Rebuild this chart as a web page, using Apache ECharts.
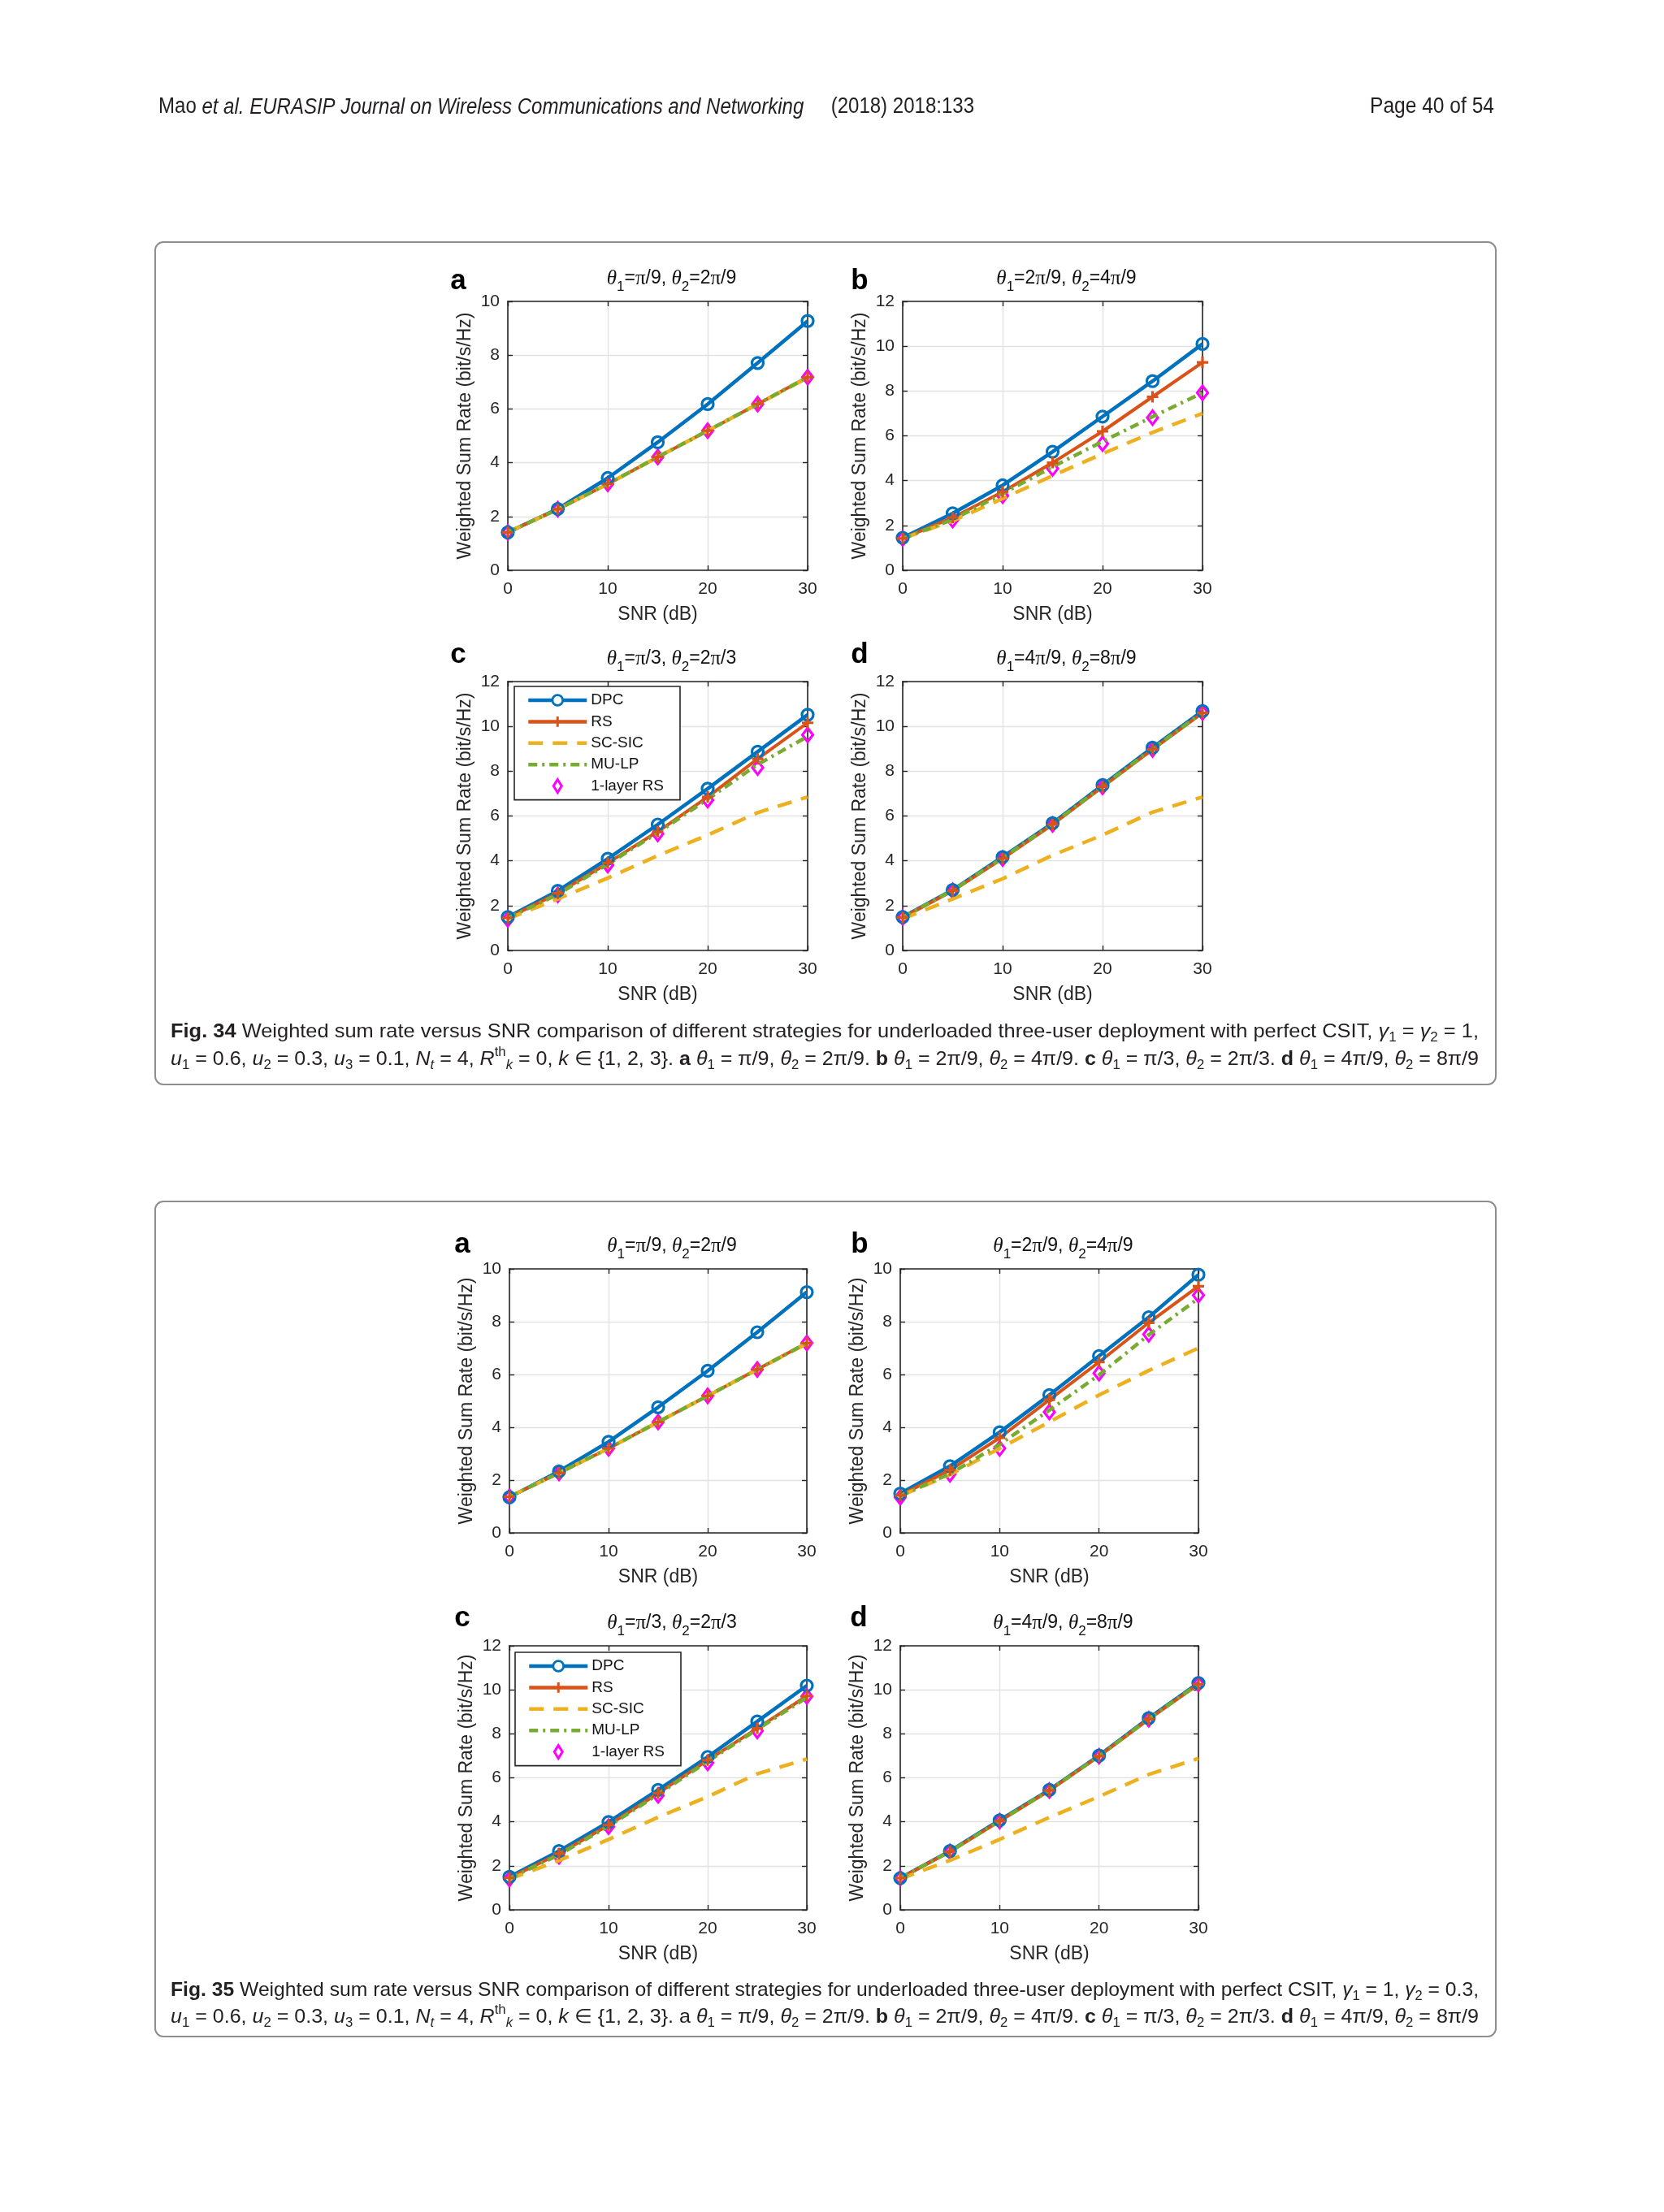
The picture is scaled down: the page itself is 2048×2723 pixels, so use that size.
<!DOCTYPE html>
<html>
<head>
<meta charset="utf-8">
<title>Weighted sum rate versus SNR</title>
<script src="https://cdn.jsdelivr.net/npm/echarts@6/dist/echarts.min.js"></script>
<style>
  html, body { margin: 0; padding: 0; background: #fff; }
  #chart { width: 2048px; height: 2723px; }
</style>
</head>
<body>
<div id="chart"></div>
<script>
(function () {

  'use strict';

  // SNR (dB) sample points and axis ticks
  var snr = [0, 5, 10, 15, 20, 25, 30];
  var xTicks = [0, 10, 20, 30];
  var seriesNames = ['DPC', 'RS', 'SC-SIC', 'MU-LP', '1-layer RS'];

  // Fig. 34  (gamma1 = gamma2 = 1)
  var f34aDPC = [1.41, 2.28, 3.43, 4.76, 6.18, 7.71, 9.27];
  var f34aRS = [1.41, 2.27, 3.21, 4.21, 5.19, 6.18, 7.18];
  var f34aSCSIC = [1.41, 2.27, 3.21, 4.21, 5.19, 6.18, 7.16];
  var f34aMULP = [1.41, 2.27, 3.21, 4.21, 5.19, 6.18, 7.18];
  var f34aRS1 = [1.41, 2.27, 3.21, 4.21, 5.19, 6.18, 7.18];

  var f34bDPC = [1.45, 2.54, 3.79, 5.29, 6.86, 8.44, 10.1];
  var f34bRS = [1.42, 2.35, 3.5, 4.8, 6.2, 7.74, 9.28];
  var f34bSCSIC = [1.42, 2.2, 3.2, 4.22, 5.2, 6.15, 7.0];
  var f34bMULP = [1.42, 2.26, 3.42, 4.62, 5.75, 6.85, 7.92];
  var f34bRS1 = [1.42, 2.24, 3.33, 4.54, 5.65, 6.81, 7.92];

  var f34cDPC = [1.49, 2.66, 4.09, 5.62, 7.22, 8.87, 10.52];
  var f34cRS = [1.45, 2.55, 3.9, 5.3, 6.85, 8.55, 10.16];
  var f34cSCSIC = [1.41, 2.3, 3.23, 4.23, 5.15, 6.15, 6.85];
  var f34cMULP = [1.45, 2.5, 3.85, 5.25, 6.75, 8.3, 9.55];
  var f34cRS1 = [1.39, 2.48, 3.81, 5.2, 6.71, 8.16, 9.62];

  var f34dDPC = [1.49, 2.7, 4.17, 5.68, 7.38, 9.05, 10.68];
  var f34dRS = [1.47, 2.66, 4.1, 5.62, 7.3, 8.97, 10.6];
  var f34dSCSIC = [1.41, 2.3, 3.2, 4.25, 5.15, 6.17, 6.85];
  var f34dMULP = [1.48, 2.68, 4.13, 5.65, 7.33, 9.0, 10.62];
  var f34dRS1 = [1.47, 2.66, 4.1, 5.62, 7.3, 8.97, 10.62];

  // Fig. 35  (gamma1 = 1, gamma2 = 0.3)
  var f35aDPC = [1.35, 2.33, 3.45, 4.76, 6.14, 7.6, 9.12];
  var f35aRS = [1.37, 2.27, 3.2, 4.2, 5.19, 6.19, 7.19];
  var f35aSCSIC = [1.37, 2.27, 3.2, 4.2, 5.19, 6.19, 7.17];
  var f35aMULP = [1.37, 2.27, 3.2, 4.2, 5.19, 6.19, 7.19];
  var f35aRS1 = [1.37, 2.27, 3.2, 4.2, 5.19, 6.19, 7.19];

  var f35bDPC = [1.49, 2.53, 3.81, 5.22, 6.7, 8.17, 9.78];
  var f35bRS = [1.42, 2.38, 3.6, 5.04, 6.47, 7.96, 9.34];
  var f35bSCSIC = [1.4, 2.2, 3.2, 4.2, 5.22, 6.15, 7.0];
  var f35bMULP = [1.4, 2.24, 3.35, 4.65, 5.98, 7.5, 8.88];
  var f35bRS1 = [1.35, 2.22, 3.2, 4.58, 6.05, 7.52, 9.0];

  var f35cDPC = [1.5, 2.67, 3.99, 5.45, 6.95, 8.56, 10.19];
  var f35cRS = [1.45, 2.55, 3.85, 5.3, 6.8, 8.25, 9.72];
  var f35cSCSIC = [1.4, 2.24, 3.2, 4.21, 5.14, 6.18, 6.85];
  var f35cMULP = [1.43, 2.5, 3.8, 5.25, 6.75, 8.2, 9.65];
  var f35cRS1 = [1.4, 2.43, 3.78, 5.2, 6.68, 8.13, 9.7];

  var f35dDPC = [1.44, 2.67, 4.07, 5.45, 7.01, 8.71, 10.31];
  var f35dRS = [1.44, 2.64, 4.03, 5.42, 6.98, 8.66, 10.25];
  var f35dSCSIC = [1.4, 2.25, 3.2, 4.2, 5.15, 6.15, 6.88];
  var f35dMULP = [1.44, 2.65, 4.04, 5.43, 6.99, 8.68, 10.27];
  var f35dRS1 = [1.44, 2.64, 4.03, 5.42, 6.98, 8.66, 10.27];

  var C = { dpc: '#0072BD', rs: '#D95319', sc: '#EDB120', mu: '#77AC30', one: '#FF00FF' };
  var AX = '#262626';
  var SANS = "'Liberation Sans', Arial, Helvetica, sans-serif";
  var SERIF = "'Liberation Serif', 'Times New Roman', serif";

  var panels = [
    { letter: 'a', t1: 'π/9', t2: '2π/9', ymax: 10, left: 625, top: 371, width: 369, height: 331, lx: 564, ly: 357, data: [f34aDPC, f34aRS, f34aSCSIC, f34aMULP, f34aRS1] },
    { letter: 'b', t1: '2π/9', t2: '4π/9', ymax: 12, left: 1111, top: 371, width: 369, height: 331, lx: 1058, ly: 357, data: [f34bDPC, f34bRS, f34bSCSIC, f34bMULP, f34bRS1] },
    { letter: 'c', t1: 'π/3', t2: '2π/3', ymax: 12, left: 625, top: 839, width: 369, height: 331, lx: 564, ly: 817, data: [f34cDPC, f34cRS, f34cSCSIC, f34cMULP, f34cRS1] },
    { letter: 'd', t1: '4π/9', t2: '8π/9', ymax: 12, left: 1111, top: 839, width: 369, height: 331, lx: 1058, ly: 817, data: [f34dDPC, f34dRS, f34dSCSIC, f34dMULP, f34dRS1] },
    { letter: 'a', t1: 'π/9', t2: '2π/9', ymax: 10, left: 627, top: 1562, width: 366, height: 325, lx: 569, ly: 1543, data: [f35aDPC, f35aRS, f35aSCSIC, f35aMULP, f35aRS1] },
    { letter: 'b', t1: '2π/9', t2: '4π/9', ymax: 10, left: 1108, top: 1562, width: 367, height: 325, lx: 1058, ly: 1543, data: [f35bDPC, f35bRS, f35bSCSIC, f35bMULP, f35bRS1] },
    { letter: 'c', t1: 'π/3', t2: '2π/3', ymax: 12, left: 627, top: 2026, width: 366, height: 325, lx: 569, ly: 2003, data: [f35cDPC, f35cRS, f35cSCSIC, f35cMULP, f35cRS1] },
    { letter: 'd', t1: '4π/9', t2: '8π/9', ymax: 12, left: 1108, top: 2026, width: 367, height: 325, lx: 1057, ly: 2003, data: [f35dDPC, f35dRS, f35dSCSIC, f35dMULP, f35dRS1] }
  ];

  // panel title: theta_1 = ..., theta_2 = ...
  var titleRich = {
    n: { fontFamily: SANS, fontSize: 23, lineHeight: 38, fill: '#111' },
    t: { fontFamily: SERIF, fontStyle: 'italic', fontSize: 25, lineHeight: 38, fill: '#111' },
    p: { fontFamily: SERIF, fontSize: 25, lineHeight: 38, fill: '#111' },
    s: { fontFamily: SANS, fontSize: 17, lineHeight: 17, verticalAlign: 'bottom', fill: '#111' }
  };
  function piTok(s) {
    var parts = s.split('π');
    var out = '';
    if (parts[0]) out += '{n|' + parts[0] + '}';
    out += '{p|π}';
    if (parts[1]) out += '{n|' + parts[1] + '}';
    return out;
  }
  function titleText(t1, t2) {
    return '{t|θ}{s|1}{n|=}' + piTok(t1) + '{n|, }{t|θ}{s|2}{n|=}' + piTok(t2);
  }

  function pts(v) {
    return snr.map(function (x, k) { return [x, v[k]]; });
  }

  var grids = [], xAxes = [], yAxes = [], series = [], graphics = [];
  var axisLine = { show: true, onZero: false, lineStyle: { color: AX, width: 1.6 } };
  var axisTick = { show: true, inside: true, length: 6, lineStyle: { color: AX, width: 1.4 } };
  var gridLine = { show: true, lineStyle: { color: '#e2e2e2', width: 1.4 } };
  var nameStyle = { color: AX, fontSize: 23, fontFamily: SANS };

  panels.forEach(function (p, i) {
    grids.push({ left: p.left, top: p.top, width: p.width, height: p.height });

    var xBase = { type: 'value', gridIndex: i, min: xTicks[0], max: xTicks[xTicks.length - 1], interval: xTicks[1] - xTicks[0] };
    var yBase = { type: 'value', gridIndex: i, min: 0, max: p.ymax, interval: 2 };

    xAxes.push(Object.assign({}, xBase, {
      position: 'bottom', name: 'SNR (dB)', nameLocation: 'middle', nameGap: 43, nameTextStyle: nameStyle,
      axisLine: axisLine, axisTick: axisTick, splitLine: gridLine,
      axisLabel: { color: AX, fontSize: 21, fontFamily: SANS, margin: 13 }
    }));
    xAxes.push(Object.assign({}, xBase, {
      position: 'top', axisLine: axisLine, axisTick: axisTick, axisLabel: { show: false }, splitLine: { show: false }
    }));
    yAxes.push(Object.assign({}, yBase, {
      position: 'left', name: 'Weighted Sum Rate (bit/s/Hz)', nameLocation: 'middle', nameGap: 41, nameTextStyle: nameStyle,
      axisLine: axisLine, axisTick: axisTick, splitLine: gridLine,
      axisLabel: { color: AX, fontSize: 21, fontFamily: SANS, margin: 10 }
    }));
    yAxes.push(Object.assign({}, yBase, {
      position: 'right', axisLine: axisLine, axisTick: axisTick, axisLabel: { show: false }, splitLine: { show: false }
    }));

    var ax = { xAxisIndex: 2 * i, yAxisIndex: 2 * i, silent: true, animation: false };
    series.push(Object.assign({
      name: 'DPC', type: 'line', data: pts(p.data[0]), symbol: 'circle', symbolSize: 14,
      lineStyle: { color: C.dpc, width: 4.5 },
      itemStyle: { color: 'rgba(255,255,255,0)', borderColor: C.dpc, borderWidth: 3.2 }
    }, ax));
    series.push(Object.assign({
      name: 'RS', type: 'line', data: pts(p.data[1]), symbol: 'path://M5,0L5,10M0,5L10,5', symbolSize: 14,
      lineStyle: { color: C.rs, width: 4 },
      itemStyle: { color: 'rgba(255,255,255,0)', borderColor: C.rs, borderWidth: 3.2 }
    }, ax));
    series.push(Object.assign({
      name: 'SC-SIC', type: 'line', data: pts(p.data[2]), symbol: 'none',
      lineStyle: { color: C.sc, width: 4.5, type: [18, 12] },
      itemStyle: { color: C.sc }
    }, ax));
    series.push(Object.assign({
      name: 'MU-LP', type: 'line', data: pts(p.data[3]), symbol: 'none',
      lineStyle: { color: C.mu, width: 4.5, type: [11, 6, 3, 6] },
      itemStyle: { color: C.mu }
    }, ax));
    series.push(Object.assign({
      name: '1-layer RS', type: 'scatter', data: pts(p.data[4]), symbol: 'diamond', symbolSize: [13, 17],
      itemStyle: { color: 'rgba(255,255,255,0)', borderColor: C.one, borderWidth: 3.2, opacity: 1 }
    }, ax));

    // panel title and letter
    graphics.push({
      type: 'text', x: p.left + p.width / 2 + 17, y: p.top - 28, silent: true,
      style: { text: titleText(p.t1, p.t2), rich: titleRich, align: 'center', verticalAlign: 'middle', fontSize: 23, fontFamily: SANS, fill: '#111' }
    });
    graphics.push({
      type: 'text', x: p.lx, y: p.ly - 11, silent: true,
      style: { text: p.letter, fontSize: 35, fontWeight: 'bold', fontFamily: SANS, fill: '#000', align: 'center', verticalAlign: 'middle' }
    });
  });

  // legends in panel c of both figures
  function legendAt(left, top) {
    return {
      left: left, top: top, orient: 'vertical', selectedMode: false,
      itemWidth: 72, itemHeight: 16, itemGap: 6.4, padding: [7, 20, 7, 15],
      backgroundColor: '#fff', borderColor: AX, borderWidth: 1.6, borderRadius: 0,
      textStyle: { color: '#111', fontSize: 19, fontFamily: SANS, lineHeight: 20 },
      data: [
        { name: 'DPC', itemStyle: { color: '#fff', borderColor: C.dpc, borderWidth: 2.8 }, lineStyle: { width: 4.5 } },
        { name: 'RS', itemStyle: { color: 'rgba(255,255,255,0)', borderColor: C.rs, borderWidth: 3 }, lineStyle: { width: 4.5 } },
        { name: 'SC-SIC', itemStyle: { opacity: 0 }, lineStyle: { width: 4.5 } },
        { name: 'MU-LP', itemStyle: { opacity: 0 }, lineStyle: { width: 4.5 } },
        {
          name: '1-layer RS',
          // diamond centred in the 72 px wide icon box
          icon: 'path://M0,8L0,8M36,0L41,8L36,16L31,8ZM72,8L72,8',
          itemStyle: { color: 'rgba(255,255,255,0)', borderColor: C.one, borderWidth: 3 }
        }
      ]
    };
  }

  // text helpers for header and captions (condensed by scaling to the measured width)
  var ctx = document.createElement('canvas').getContext('2d');
  function fontOf(st) {
    return (st.fontStyle || 'normal') + ' ' + (st.fontWeight || 'normal') + ' ' + st.fontSize + 'px ' + st.fontFamily;
  }
  function measure(tokens, styles) {
    var w = 0;
    tokens.forEach(function (t) {
      ctx.font = fontOf(styles[t[0]]);
      w += ctx.measureText(t[1]).width;
    });
    return w;
  }
  function richString(tokens) {
    return tokens.map(function (t) {
      return t[0] === 'n' ? t[1] : '{' + t[0] + '|' + t[1] + '}';
    }).join('');
  }
  function textLine(tokens, styles, x, y, targetW, align) {
    var sx = targetW / measure(tokens, styles);
    var base = styles.n;
    return {
      type: 'text', x: x, y: y, scaleX: sx, silent: true,
      style: {
        text: richString(tokens), rich: styles,
        fontSize: base.fontSize, fontFamily: base.fontFamily, lineHeight: base.lineHeight,
        fill: base.fill, align: align || 'left', verticalAlign: 'middle'
      }
    };
  }

  var CAP = '#231f20';
  var capStyles = {
    n: { fontFamily: SANS, fontSize: 24, lineHeight: 32, fill: CAP },
    b: { fontFamily: SANS, fontSize: 24, fontWeight: 'bold', lineHeight: 32, fill: CAP },
    i: { fontFamily: SANS, fontSize: 24, fontStyle: 'italic', lineHeight: 32, fill: CAP },
    sb: { fontFamily: SANS, fontSize: 16, lineHeight: 16, verticalAlign: 'bottom', fill: CAP },
    si: { fontFamily: SANS, fontSize: 16, fontStyle: 'italic', lineHeight: 16, verticalAlign: 'bottom', fill: CAP },
    sp: { fontFamily: SANS, fontSize: 16, lineHeight: 16, verticalAlign: 'top', fill: CAP }
  };
  var headStyles = {
    n: { fontFamily: SANS, fontSize: 27, lineHeight: 34, fill: CAP },
    i: { fontFamily: SANS, fontSize: 27, fontStyle: 'italic', lineHeight: 34, fill: CAP }
  };

  function thetaPart(letter, bold, a, b, last) {
    return [[bold ? 'b' : 'n', letter], ['n', ' '], ['i', 'θ'], ['sb', '1'], ['n', ' = ' + a + ', '],
      ['i', 'θ'], ['sb', '2'], ['n', ' = ' + b + (last ? '' : '. ')]];
  }
  function captionLine2(boldA) {
    return [['i', 'u'], ['sb', '1'], ['n', ' = 0.6, '], ['i', 'u'], ['sb', '2'], ['n', ' = 0.3, '],
      ['i', 'u'], ['sb', '3'], ['n', ' = 0.1, '], ['i', 'N'], ['si', 't'], ['n', ' = 4, '],
      ['i', 'R'], ['sp', 'th'], ['si', 'k'], ['n', ' = 0, '], ['i', 'k'], ['n', ' ∈ {1, 2, 3}. ']]
      .concat(thetaPart('a', boldA, 'π/9', '2π/9'))
      .concat(thetaPart('b', true, '2π/9', '4π/9'))
      .concat(thetaPart('c', true, 'π/3', '2π/3'))
      .concat(thetaPart('d', true, '4π/9', '8π/9', true));
  }
  var capIntro = ' Weighted sum rate versus SNR comparison of different strategies for underloaded three-user deployment with perfect CSIT, ';
  var cap34a = [['b', 'Fig. 34'], ['n', capIntro], ['i', 'γ'], ['sb', '1'], ['n', ' = '], ['i', 'γ'], ['sb', '2'], ['n', ' = 1,']];
  var cap35a = [['b', 'Fig. 35'], ['n', capIntro], ['i', 'γ'], ['sb', '1'], ['n', ' = 1, '], ['i', 'γ'], ['sb', '2'], ['n', ' = 0.3,']];

  // frames
  graphics.push({ type: 'rect', silent: true, z: -1, shape: { x: 191, y: 298, width: 1650, height: 1037, r: 10 }, style: { fill: 'none', stroke: '#8e8e8e', lineWidth: 2 } });
  graphics.push({ type: 'rect', silent: true, z: -1, shape: { x: 191, y: 1479, width: 1650, height: 1028, r: 10 }, style: { fill: 'none', stroke: '#8e8e8e', lineWidth: 2 } });

  // running header
  graphics.push(textLine([['n', 'Mao '], ['i', 'et al. EURASIP Journal on Wireless Communications and Networking'], ['n', '     (2018) 2018:133']], headStyles, 195, 132, 1004));
  graphics.push(textLine([['n', 'Page 40 of 54']], headStyles, 1839, 132, 153, 'right'));

  // captions
  graphics.push(textLine(cap34a, capStyles, 210, 1270, 1610));
  graphics.push(textLine(captionLine2(true), capStyles, 210, 1304, 1610));
  graphics.push(textLine(cap35a, capStyles, 210, 2450, 1610));
  graphics.push(textLine(captionLine2(false), capStyles, 210, 2483, 1610));

  var chart = echarts.init(document.getElementById('chart'), null, { renderer: 'canvas' });
  chart.setOption({
    backgroundColor: '#fff',
    animation: false,
    grid: grids,
    xAxis: xAxes,
    yAxis: yAxes,
    legend: [legendAt(633, 845), legendAt(634, 2034)],
    series: series,
    graphic: { elements: graphics }
  });

})();
</script>
</body>
</html>
